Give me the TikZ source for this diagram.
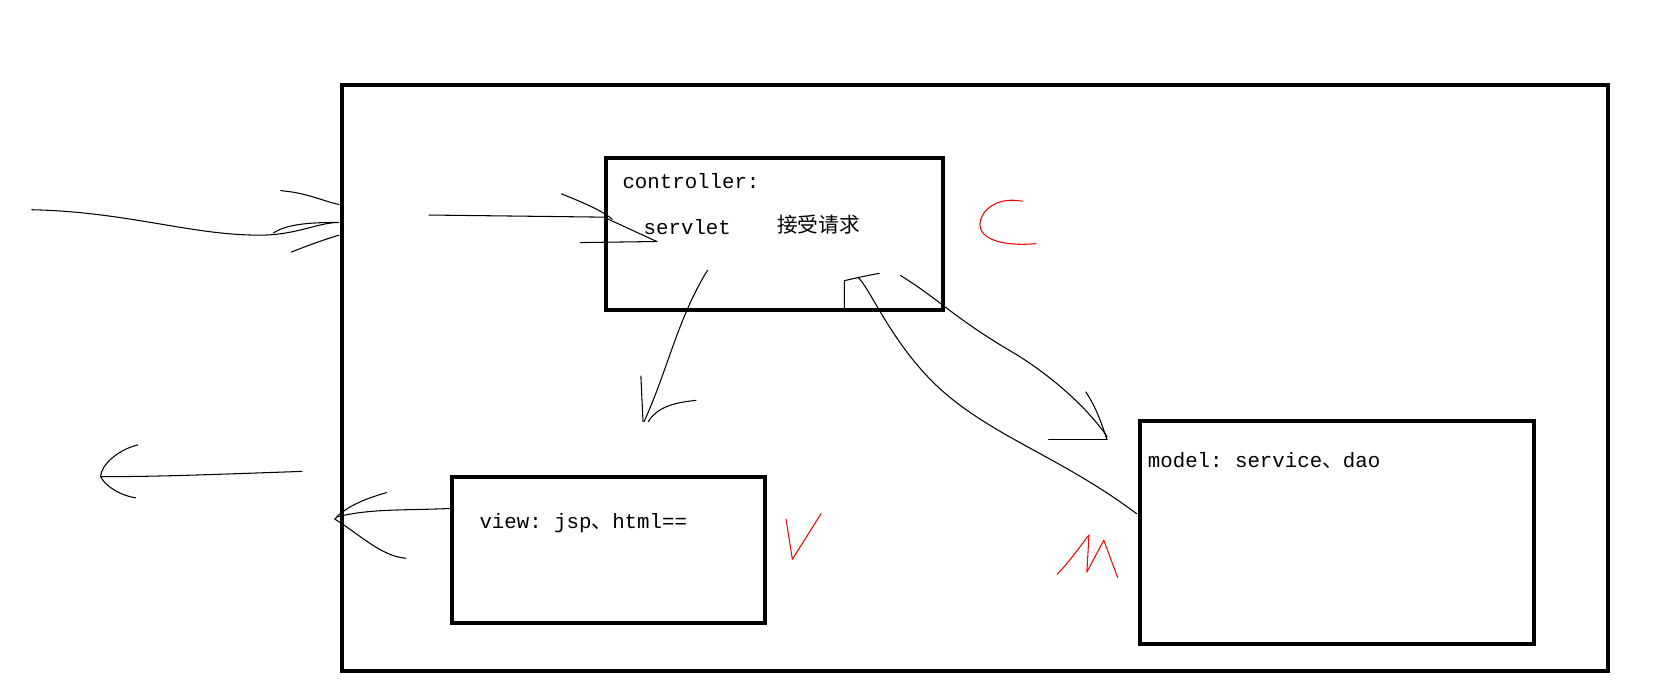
\documentclass[tikz,border=0pt]{standalone}
\usepackage{fontspec}
\setmonofont{Liberation Mono}
\newfontfamily\cjk{Noto Sans CJK SC}
\begin{document}
\begin{tikzpicture}[x=0.01059cm,y=-0.01059cm]
\tikzset{box/.style={draw,line width=1.15pt},
  pen/.style={line width=0.3pt,line cap=round,line join=round},
  redpen/.style={pen,red},
  lbl/.style={font=\ttfamily\fontsize{5.9}{6}\selectfont,anchor=west,inner sep=0pt}}
\fill[white] (0,0) rectangle (1568,657);
\draw[box] (323,80) rectangle (1518,633);
\draw[box] (572,149) rectangle (890,293);
\draw[box] (427,450) rectangle (722,588);
\draw[box] (1076,397) rectangle (1448,608);
\node[lbl] (ctl) at (587,171) {controller:};
\node[lbl] (srv) at (607,214) {servlet};
\node[lbl,font=\cjk\fontsize{5.9}{6}\selectfont] (req) at (733,212) {接受请求};
\node[lbl] (view) at (452,494) {view: jsp{\cjk 、}html==};
\node[lbl] (model) at (1083,435) {model: service{\cjk 、}dao};
% incoming from left
\draw[pen] (30,198) .. controls (120,200) and (180,222) .. (245,222) .. controls (280,222) and (300,210) .. (320,210);
\draw[pen] (265,180) .. controls (290,182) and (305,190) .. (320,193);
\draw[pen] (275,238) .. controls (295,230) and (310,225) .. (320,222);
\draw[pen] (258,220) .. controls (270,212) and (290,210) .. (318,210);
% into controller
\draw[pen] (405,203) -- (570,205) -- (620,228);
\draw[pen] (530,183) .. controls (555,193) and (570,200) .. (578,207);
\draw[pen] (548,229) -- (620,228);
% controller to view
\draw[pen] (668,255) .. controls (640,300) and (630,350) .. (608,398);
\draw[pen] (605,355) -- (607,398);
\draw[pen] (612,398) .. controls (620,385) and (635,380) .. (657,378);
% controller to model
\draw[pen] (850,260) .. controls (890,285) and (900,300) .. (960,335) .. controls (1000,360) and (1030,390) .. (1045,412);
\draw[pen] (1025,370) .. controls (1035,385) and (1040,400) .. (1045,415);
\draw[pen] (990,415) -- (1045,415);
% model back to controller
\draw[pen] (1073,485) .. controls (1000,430) and (930,410) .. (880,360) .. controls (840,320) and (820,270) .. (810,262) -- (830,258);
\draw[pen] (797,292) -- (797,265) -- (810,262);
% view out
\draw[pen] (425,480) .. controls (380,482) and (350,480) .. (318,488);
\draw[pen] (365,465) .. controls (340,472) and (325,480) .. (316,490) .. controls (340,505) and (360,525) .. (383,527);
% far left out
\draw[pen] (285,445) .. controls (200,448) and (150,450) .. (95,450);
\draw[pen] (130,420) .. controls (110,425) and (95,440) .. (95,450) .. controls (100,460) and (115,468) .. (128,470);
% letters
\draw[redpen] (965,190) .. controls (940,185) and (925,200) .. (925,212) .. controls (925,225) and (945,233) .. (978,230);
\draw[redpen] (742,490) -- (748,528) -- (775,485);
\draw[redpen] (998,542) .. controls (1010,530) and (1020,515) .. (1028,505) -- (1026,540) -- (1042,510) -- (1055,545);
\end{tikzpicture}
\end{document}
